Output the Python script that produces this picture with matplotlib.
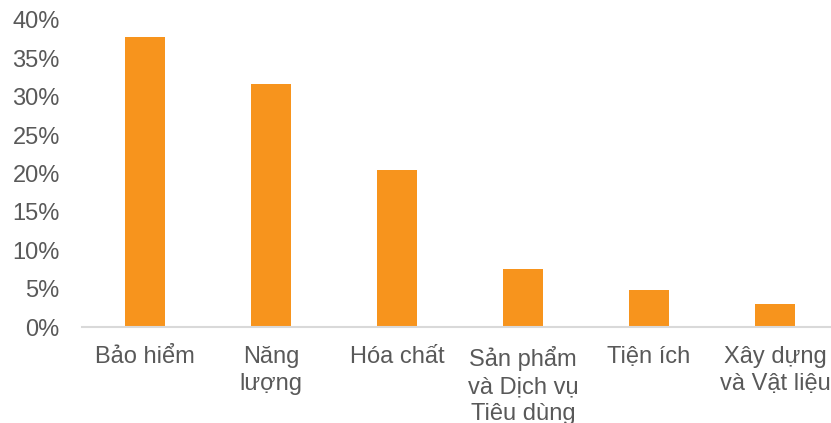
import matplotlib
matplotlib.use("Agg")
import matplotlib.pyplot as plt
import numpy as np

# Sector shares (percent)
sectors = ["Bảo hiểm", "Năng\nlượng", "Hóa chất", "Sản phẩm\nvà Dịch vụ\nTiêu dùng",
           "Tiện ích", "Xây dựng\nvà Vật liệu"]
shares = [37.8, 31.7, 20.5, 7.5, 4.8, 3.0]
y_ticks = [0, 5, 10, 15, 20, 25, 30, 35, 40]

BAR_COLOR = "#F7941D"
TEXT_COLOR = "#595959"
AXIS_COLOR = "#D9D9D9"

plt.rcParams["font.family"] = ["Liberation Sans", "DejaVu Sans"]

fig = plt.figure(figsize=(8.31, 4.23), dpi=100)
ax = fig.add_axes([82 / 831, 96 / 423, 756 / 831, 307 / 423])

x = np.arange(len(sectors))
ax.bar(x, shares, width=0.317, color=BAR_COLOR, zorder=2)

ax.set_xlim(-0.5, len(sectors) - 0.5)
ax.set_ylim(0, 40)
ax.set_yticks(y_ticks)
ax.set_yticklabels([f"{t}%" for t in y_ticks])
ax.set_xticks(x)
ax.set_xticklabels(sectors, linespacing=1.28, va="top")

for side in ["top", "right", "left"]:
    ax.spines[side].set_visible(False)
ax.spines["bottom"].set_color(AXIS_COLOR)
ax.spines["bottom"].set_linewidth(1.5)

ax.tick_params(axis="y", length=0, pad=16, labelsize=17, labelcolor=TEXT_COLOR)
ax.tick_params(axis="x", length=0, pad=14, labelsize=17, labelcolor=TEXT_COLOR)

fig.savefig("out.png", dpi=100)
